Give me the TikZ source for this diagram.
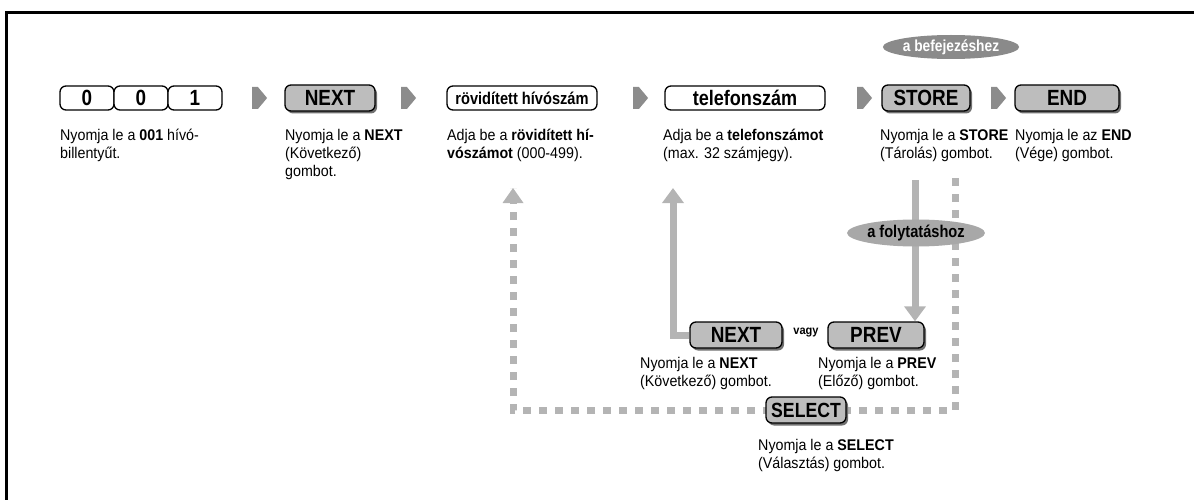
\documentclass[tikz,border=0pt]{standalone}
\usepackage{fontspec}
\setmainfont{Liberation Sans}[FakeStretch=0.92]
\newfontfamily\btnfont[FakeStretch=0.86]{Liberation Sans}
\usetikzlibrary{shapes.geometric,shapes.symbols,calc,arrows.meta,shadows}
\definecolor{btngray}{HTML}{BDBDBD}
\definecolor{shadegray}{HTML}{707070}
\definecolor{stepgray}{HTML}{8C8C8C}
\definecolor{flowgray}{HTML}{B4B4B4}
\definecolor{darkoval}{HTML}{8A8A8A}
\definecolor{lightoval}{HTML}{A8A8A8}
\tikzset{
  keyfont/.style={font=\btnfont\bfseries\fontsize{22}{22}\selectfont},
  btn/.style={draw=black, line width=1.3pt, fill=btngray, rounded corners=6pt,
    minimum height=26pt, inner sep=0pt, keyfont,
    drop shadow={shadow xshift=2pt, shadow yshift=-2.5pt, fill=shadegray, opacity=1}},
  entry/.style={draw=black, line width=1.3pt, fill=white, rounded corners=6pt,
    minimum height=24pt, inner sep=0pt},
  stepsign/.style={signal, signal to=east, signal pointer angle=100, fill=stepgray,
    minimum width=15pt, minimum height=22pt, inner sep=0pt},
  note/.style={anchor=north west, align=left, inner sep=0pt,
    font=\fontsize{15.5}{18}\selectfont},
  oval/.style={ellipse, inner sep=0pt, font=\btnfont\bfseries\fontsize{17}{17}\selectfont},
  flow/.style={draw=flowgray, line width=7pt},
  flowtip/.style={-{Triangle[width=21pt,length=15pt]}},
  dashflow/.style={flow, dash pattern=on 8pt off 8pt},
}
\begin{document}
\begin{tikzpicture}[x=1pt,y=-1pt]
\useasboundingbox (0,0) rectangle (1194,500);
% outer frame: top and left edges
\draw[line width=3pt] (6,500) -- (6,13) -- (1194,13);

% top row of steps
\node[entry, minimum width=54pt, keyfont] (k0a) at (87,98) {0};
\node[entry, minimum width=54pt, keyfont] (k0b) at (141,98) {0};
\node[entry, minimum width=54pt, keyfont] (k1) at (195,98) {1};
\node[stepsign] (s1) at (255,98) {};
\node[btn, minimum width=90pt] (next) at (330,98) {NEXT};
\node[stepsign] (s2) at (404,98) {};
\node[entry, minimum width=150pt, font=\btnfont\bfseries\fontsize{17}{17}\selectfont] (abbr) at (522,98) {rövidített hívószám};
\node[stepsign] (s3) at (636,98) {};
\node[entry, minimum width=160pt, font=\btnfont\bfseries\fontsize{21}{21}\selectfont] (phone) at (745,98) {telefonszám};
\node[stepsign] (s4) at (860,98) {};
\node[btn, minimum width=88pt] (store) at (926,98) {STORE};
\node[stepsign] (s5) at (994,98) {};
\node[btn, minimum width=104pt] (endkey) at (1067,98) {END};
\node[oval, fill=darkoval, text=white, minimum width=124pt, minimum height=24pt,
  font=\btnfont\bfseries\fontsize{16}{16}\selectfont] (finish) at (951,47) {a befejezéshez};

% descriptions under the top row
\node[note] (t1) at (60,129) {Nyomja le a \textbf{001} hívó-\\billentyűt.};
\node[note] (t2) at (285,129) {Nyomja le a \textbf{NEXT}\\(Következő)\\gombot.};
\node[note] (t3) at (447,129) {Adja be a \textbf{rövidített hí-}\\\textbf{vószámot} (000-499).};
\node[note] (t4) at (663,129) {Adja be a \textbf{telefonszámot}\\(max. 32 számjegy).};
\node[note] (t5) at (880,129) {Nyomja le a \textbf{STORE}\\(Tárolás) gombot.};
\node[note] (t6) at (1015,129) {Nyomja le az \textbf{END}\\(Vége) gombot.};

% flow lines
\coordinate (storeOut) at (915,180);
\coordinate (storeBack) at (955,178);
\coordinate (phoneIn) at (673,188);
\coordinate (abbrIn) at (513,188);
\coordinate (selCorner) at (955,410);
\coordinate (abbrCorner) at (513,410);

% lower keys
\node[btn, minimum width=92pt] (next2) at (736,335) {NEXT};
\node[font=\bfseries\fontsize{12}{12}\selectfont] (or) at (806,333) {vagy};
\node[btn, minimum width=96pt] (prev) at (876,335) {PREV};

\draw[dashflow, line cap=butt] (storeBack) -- (selCorner) -- (selCorner -| abbrCorner) -- (abbrIn);
\draw[flowgray, line width=0pt, -{Triangle[width=21pt,length=15pt]}] ($(abbrIn)+(0,1)$) -- (abbrIn);

\node[btn, minimum width=80pt, inner xsep=3pt, font=\btnfont\bfseries\fontsize{20.5}{20.5}\selectfont] (select) at (806,410) {SELECT};

\draw[flow, flowtip] (storeOut) -- (prev.north -| storeOut);
\node[oval, fill=lightoval, minimum width=130pt, minimum height=27pt] (cont) at (916,233) {a folytatáshoz};

\draw[flow, flowtip] (next2.west) -- (next2.west -| phoneIn) -- (phoneIn);

\node[note] (t7) at (640,357) {Nyomja le a \textbf{NEXT}\\(Következő) gombot.};
\node[note] (t8) at (818,357) {Nyomja le a \textbf{PREV}\\(Előző) gombot.};
\node[note] (t9) at (758,439) {Nyomja le a \textbf{SELECT}\\(Választás) gombot.};
\end{tikzpicture}
\end{document}
